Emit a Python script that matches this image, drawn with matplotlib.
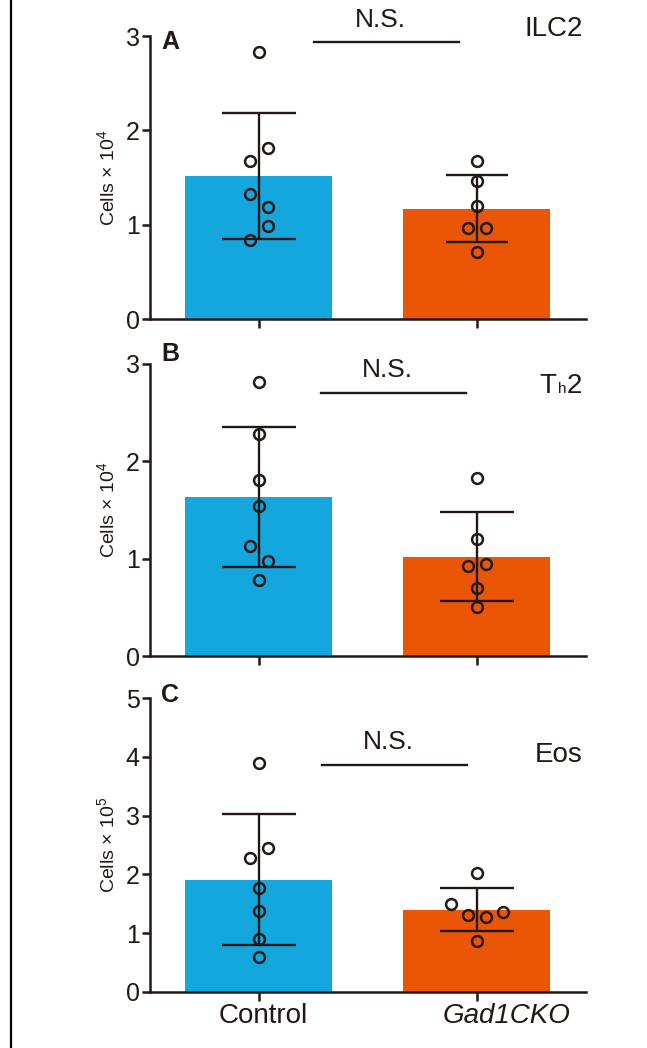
import numpy as np
import matplotlib
matplotlib.use('Agg')
import matplotlib.pyplot as plt
from matplotlib.lines import Line2D

plt.rcParams['font.family'] = ['Liberation Sans', 'DejaVu Sans']
plt.rcParams['mathtext.fontset'] = 'custom'
plt.rcParams['mathtext.rm'] = 'Liberation Sans'

groups = ['Control', 'Gad1CKO']
blue = '#14A7DE'
orange = '#EA5506'
ink = '#231815'

# ILC2 (x10^4)
ilc2_mean = [1.516, 1.17]
ilc2_sd = [0.665, 0.356]
ilc2_ctrl = [2.83, 1.81, 1.67, 1.33, 1.19, 0.99, 0.84]
ilc2_cko = [1.67, 1.46, 1.20, 0.96, 0.96, 0.71]

# Th2 (x10^4)
th2_mean = [1.63, 1.02]
th2_sd = [0.72, 0.46]
th2_ctrl = [2.81, 2.28, 1.81, 1.54, 1.13, 0.98, 0.78]
th2_cko = [1.83, 1.20, 0.92, 0.94, 0.70, 0.50]

# Eos (x10^5)
eos_mean = [1.91, 1.40]
eos_sd = [1.11, 0.37]
eos_ctrl = [3.89, 2.45, 2.28, 1.77, 1.38, 0.90, 0.59]
eos_cko = [2.02, 1.49, 1.36, 1.31, 1.27, 0.86]

# horizontal jitter of the dots, in bar units
ctrl_dx = [0.0, 0.042, -0.042, -0.042, 0.042, 0.042, -0.042]
ilc2_cko_dx = [0.0, 0.0, 0.0, -0.042, 0.042, 0.0]
th2_ctrl_dx = [0.0, 0.0, 0.0, 0.0, -0.042, 0.042, 0.0]
th2_cko_dx = [0.0, 0.0, -0.042, 0.042, 0.0, 0.0]
eos_ctrl_dx = [0.0, 0.042, -0.042, 0.0, 0.0, 0.0, 0.0]
eos_cko_dx = [0.0, -0.12, 0.12, -0.041, 0.041, 0.0]

panels = [
    dict(letter='A', name='ILC2', mean=ilc2_mean, sd=ilc2_sd,
         pts=[(ilc2_ctrl, ctrl_dx), (ilc2_cko, ilc2_cko_dx)],
         ymax=3, exp='4', rect=[0.232, 0.6956, 0.673, 0.270],
         ns_x=(0.255, 0.918), ns_y=2.934, ns_ty=3.17, cap=[26.5, 22.6],
         letter_y=0.979, name_y=1.025),
    dict(letter='B', name='Th2', mean=th2_mean, sd=th2_sd,
         pts=[(th2_ctrl, th2_ctrl_dx), (th2_cko, th2_cko_dx)],
         ymax=3, exp='4', rect=[0.232, 0.374, 0.673, 0.279],
         ns_x=(0.287, 0.95), ns_y=2.70, ns_ty=2.94, cap=[26.5, 26.5],
         letter_y=1.033, name_y=0.934),
    dict(letter='C', name='Eos', mean=eos_mean, sd=eos_sd,
         pts=[(eos_ctrl, eos_ctrl_dx), (eos_cko, eos_cko_dx)],
         ymax=5, exp='5', rect=[0.232, 0.0537, 0.673, 0.280],
         ns_x=(0.29, 0.955), ns_y=3.87, ns_ty=4.26, cap=[26.5, 26.5],
         letter_y=1.011, name_y=0.807),
]

fig = plt.figure(figsize=(6.47, 10.48), dpi=100)
fig.add_artist(Line2D([10.5 / 647, 10.5 / 647], [0, 1], color='black', lw=1.6))

x = np.arange(2)
for p in panels:
    ax = fig.add_axes(p['rect'])
    ax.bar(x, p['mean'], width=0.675, color=[blue, orange], zorder=1)
    for i in range(2):
        vals, dx = p['pts'][i]
        ax.plot(x[i] + np.array(dx), vals, 'o', ms=7.8, mfc='none', mec=ink,
                mew=1.8, zorder=2)
        ax.errorbar(x[i], p['mean'][i], yerr=p['sd'][i], fmt='none',
                    ecolor=ink, elinewidth=1.7, capsize=p['cap'][i],
                    capthick=1.7, zorder=3)

    ax.set_xlim(-0.5, 1.5)
    ax.set_ylim(0, p['ymax'])
    ax.set_yticks(range(p['ymax'] + 1))
    ax.set_xticks(x)
    ax.set_xticklabels([])
    for s in ['top', 'right']:
        ax.spines[s].set_visible(False)
    for s in ['left', 'bottom']:
        ax.spines[s].set_linewidth(1.8)
        ax.spines[s].set_color(ink)
    ax.tick_params(axis='y', length=6, width=1.8, color=ink, pad=1.5,
                   labelsize=18, labelcolor=ink)
    ax.tick_params(axis='x', length=6.5, width=1.8, color=ink)
    ax.set_ylabel('Cells × 10$^{\\mathregular{' + p['exp'] + '}}$',
                  fontsize=14, color=ink, labelpad=5)

    # significance bar
    ax.plot(p['ns_x'], [p['ns_y'], p['ns_y']], color=ink, lw=1.7,
            clip_on=False)
    ax.text(np.mean(p['ns_x']) - 0.03, p['ns_ty'], 'N.S.', fontsize=19,
            color=ink, ha='center', va='center', clip_on=False)

    ax.text(0.025, p['letter_y'], p['letter'], transform=ax.transAxes,
            fontsize=18, fontweight='bold', color=ink, ha='left', va='center')

    if p['name'] == 'Th2':
        # T with a small h, sitting on the same baseline
        yb = p['name_y'] - 0.035
        ax.annotate('2', (0.993, yb), xycoords='axes fraction', fontsize=20,
                    color=ink, ha='right', va='baseline')
        ax.annotate('h', (0.993, yb), xycoords='axes fraction',
                    xytext=(-11.5, 0), textcoords='offset points',
                    fontsize=11, color=ink, ha='right', va='baseline')
        ax.annotate('T', (0.993, yb), xycoords='axes fraction',
                    xytext=(-19, 0), textcoords='offset points',
                    fontsize=20, color=ink, ha='right', va='baseline')
    else:
        ax.text(0.993, p['name_y'], p['name'], transform=ax.transAxes,
                fontsize=20, color=ink, ha='right', va='center')

    if p['letter'] == 'C':
        ax.text(0.018, -0.083, groups[0], transform=ax.get_xaxis_transform(),
                fontsize=20, color=ink, ha='center', va='center')
        ax.text(1.135, -0.083, groups[1], transform=ax.get_xaxis_transform(),
                fontsize=20, color=ink, ha='center', va='center',
                style='italic')

fig.savefig('out.png', dpi=100)
